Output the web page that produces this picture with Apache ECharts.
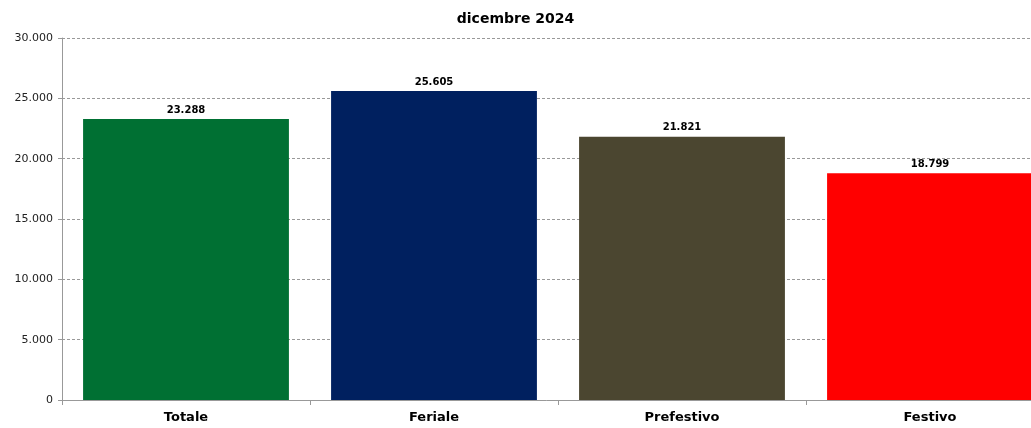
<!DOCTYPE html>
<html><head><meta charset="utf-8">
<script src="https://cdn.jsdelivr.net/npm/echarts@6/dist/echarts.min.js"></script>
<style>html,body{margin:0;padding:0;background:#fff}#c{width:1031px;height:428px}</style>
</head><body><div id="c"></div>
<script>
const title = "dicembre 2024";
const categories = ["Totale", "Feriale", "Prefestivo", "Festivo"];
const values = [23288, 25605, 21821, 18799];
const colors = ["#007033", "#00205F", "#4B4630", "#FF0000"];
const yTicks = [0, 5000, 10000, 15000, 20000, 25000, 30000];

function fmt(v){ return String(v).replace(/\B(?=(\d{3})+(?!\d))/g, "."); }

const chart = echarts.init(document.getElementById('c'), null, {renderer:'canvas'});
chart.setOption({
  animation:false,
  title:{text:title,left:'center',top:7,textStyle:{fontFamily:'DejaVu Sans',fontSize:14,fontWeight:'bold',color:'#000'}},
  grid:{left:62,top:38,height:362,width:992,containLabel:false,outerBoundsMode:'none'},
  xAxis:{type:'category',data:categories,
    axisLine:{lineStyle:{color:'#999'}},
    axisTick:{show:true,alignWithLabel:false,length:5,lineStyle:{color:'#999'}},
    axisLabel:{fontFamily:'DejaVu Sans',fontWeight:'bold',fontSize:13,color:'#000',margin:11}},
  yAxis:{type:'value',min:yTicks[0],max:yTicks[yTicks.length-1],interval:5000,
    axisLine:{show:true,lineStyle:{color:'#999'}},
    axisTick:{show:true,length:4,lineStyle:{color:'#999'}},
    splitLine:{lineStyle:{color:'#999',type:[3,2]}},
    axisLabel:{fontFamily:'DejaVu Sans',fontSize:11,color:'#222',margin:9,formatter:fmt}},
  series:[{type:'bar',barCategoryGap:'17%',
    data:values.map((v,i)=>({value:v,itemStyle:{color:colors[i]}})),
    label:{show:true,position:'top',distance:4,fontFamily:'DejaVu Sans',fontWeight:'bold',fontSize:10,color:'#000',formatter:p=>fmt(p.value)}}]
});
</script></body></html>
